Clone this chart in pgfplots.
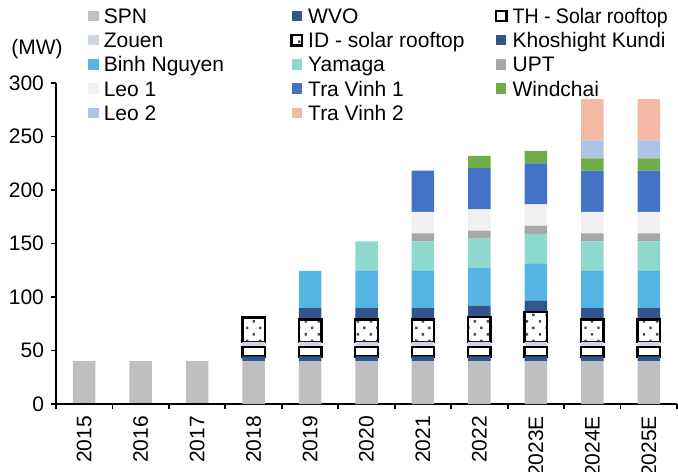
\documentclass[border=0pt]{standalone}
\usepackage{fontspec}
\setmainfont{Liberation Sans}
\usepackage{graphicx}
\usepackage{pgfplots}
\usepackage{pgfplotstable}
\pgfplotsset{compat=1.18}
\usetikzlibrary{patterns.meta}

\definecolor{cspn}{RGB}{191,191,191}
\definecolor{cwvo}{RGB}{50,86,140}
\definecolor{czouen}{RGB}{207,213,226}
\definecolor{ckk}{RGB}{50,86,140}
\definecolor{cbinh}{RGB}{86,181,228}
\definecolor{cyam}{RGB}{141,218,205}
\definecolor{cupt}{RGB}{168,168,168}
\definecolor{cleoa}{RGB}{240,240,240}
\definecolor{ctva}{RGB}{68,114,196}
\definecolor{cwind}{RGB}{112,173,71}
\definecolor{cleob}{RGB}{173,196,230}
\definecolor{ctvb}{RGB}{244,185,164}

% 2018..2025E (x = 3..10)
\pgfplotstableread{
x  spn wvo th zouen id   kk   binh yam  upt leoa tva  wind leob tvb
3  40  4.5 9  4.5   23   0    0    0    0   0    0    0    0    0
4  40  4.5 9  4.5   21   10.5 35   0    0   0    0    0    0    0
5  40  4.5 9  4.5   21   10.5 35   27.5 0   0    0    0    0    0
6  40  4.5 9  4.5   21   10.5 35   27.5 7.5 20   38.5 0    0    0
7  40  4.5 9  4.5   23.5 10.5 35   27.5 7.5 20   38.5 11.5 0    0
8  40  4.5 9  4.5   28   10.5 35   27.5 7.5 20   38.5 11.5 0    0
9  40  4.5 9  4.5   21   10.5 35   27.5 7.5 20   38.5 11.5 17   38.5
10 40  4.5 9  4.5   21   10.5 35   27.5 7.5 20   38.5 11.5 17   38.5
}\capdata
% 2015..2017: SPN only
\pgfplotstableread{
x spn
0 40
1 40
2 40
}\early

\newcommand\lgd[1]{\addlegendentry{\makebox[90.8pt][l]{#1}}}
\newcommand\fnt{\fontsize{10.5}{12}\selectfont}

\pgfplotsset{frame/.style={width=310.5pt,height=160.5pt,scale only axis,
  xmin=-0.5,xmax=10.5,ymin=0,ymax=300,bar width=11.25pt}}

\begin{document}
\begin{tikzpicture}
\begin{axis}[frame,hide axis,ybar]
  \addplot[fill=cspn,draw=none] table[x=x,y=spn]{\early};
\end{axis}
\begin{axis}[frame,ybar stacked,clip=false,
  axis lines=left,axis line style={-,line width=0.9pt},
  tick align=outside,
  ytick={0,50,...,300},
  xtick={0,...,10},
  xticklabels={2015,2016,2017,2018,2019,2020,2021,2022,2023E,2024E,2025E},
  minor xtick={-0.5,0.5,...,10.5},
  major x tick style={draw=none},
  minor x tick style={black,line width=0.9pt},
  y tick style={black,line width=0.9pt},
  major tick length=2.5pt,minor tick length=2.5pt,
  tick label style={font=\fnt},
  xticklabel style={rotate=90,anchor=east},
  /pgf/number format/assume math mode=true,
  legend columns=3,
  legend style={at={(rel axis cs:0,1)},anchor=north west,xshift=16pt,yshift=38.8pt,
    draw=none,fill=none,inner sep=0pt,row sep=0pt,column sep=0pt,
    nodes={inner xsep=2.5pt,inner ysep=0.8pt,text height=8pt,text depth=2.5pt,
      anchor=base west,font=\fnt}},
  legend image code/.code={\fill[#1] (0pt,1.1pt) rectangle (5.2pt,6.3pt);},
  ]
  \addplot[fill=cspn,draw=none] table[x=x,y=spn]{\capdata}; \lgd{SPN}
  \addplot[fill=cwvo,draw=none] table[x=x,y=wvo]{\capdata}; \lgd{WVO}
  \addplot[fill=white,draw=black,line width=1.2pt] table[x=x,y=th]{\capdata};
    \lgd{\scalebox{0.93}[1]{TH - Solar rooftop}}
  \addplot[fill=czouen,draw=none] table[x=x,y=zouen]{\capdata}; \lgd{Zouen}
  \addplot[fill=white,draw=black,line width=1.2pt,
    postaction={pattern={Dots[radius=0.85pt,distance=4.6pt,angle=45]},pattern color=black!70}]
    table[x=x,y=id]{\capdata}; \lgd{ID - solar rooftop}
  \addplot[fill=ckk,draw=none] table[x=x,y=kk]{\capdata}; \lgd{Khoshight Kundi}
  \addplot[fill=cbinh,draw=none] table[x=x,y=binh]{\capdata}; \lgd{Binh Nguyen}
  \addplot[fill=cyam,draw=none] table[x=x,y=yam]{\capdata}; \lgd{Yamaga}
  \addplot[fill=cupt,draw=none] table[x=x,y=upt]{\capdata}; \lgd{UPT}
  \addplot[fill=cleoa,draw=none] table[x=x,y=leoa]{\capdata}; \lgd{Leo 1}
  \addplot[fill=ctva,draw=none] table[x=x,y=tva]{\capdata}; \lgd{Tra Vinh 1}
  \addplot[fill=cwind,draw=none] table[x=x,y=wind]{\capdata}; \lgd{Windchai}
  \addplot[fill=cleob,draw=none] table[x=x,y=leob]{\capdata}; \lgd{Leo 2}
  \addplot[fill=ctvb,draw=none] table[x=x,y=tvb]{\capdata}; \lgd{Tra Vinh 2}
  \node[font=\fnt,xshift=-9.5pt,yshift=17.2pt] at (rel axis cs:0,1) {(MW)};
  \coordinate (O) at (axis cs:-0.5,0);
\end{axis}
\pgfresetboundingbox
\path[use as bounding box] ([xshift=-28pt,yshift=-33.5pt]O) rectangle ([xshift=311pt,yshift=202pt]O);
\end{tikzpicture}
\end{document}
